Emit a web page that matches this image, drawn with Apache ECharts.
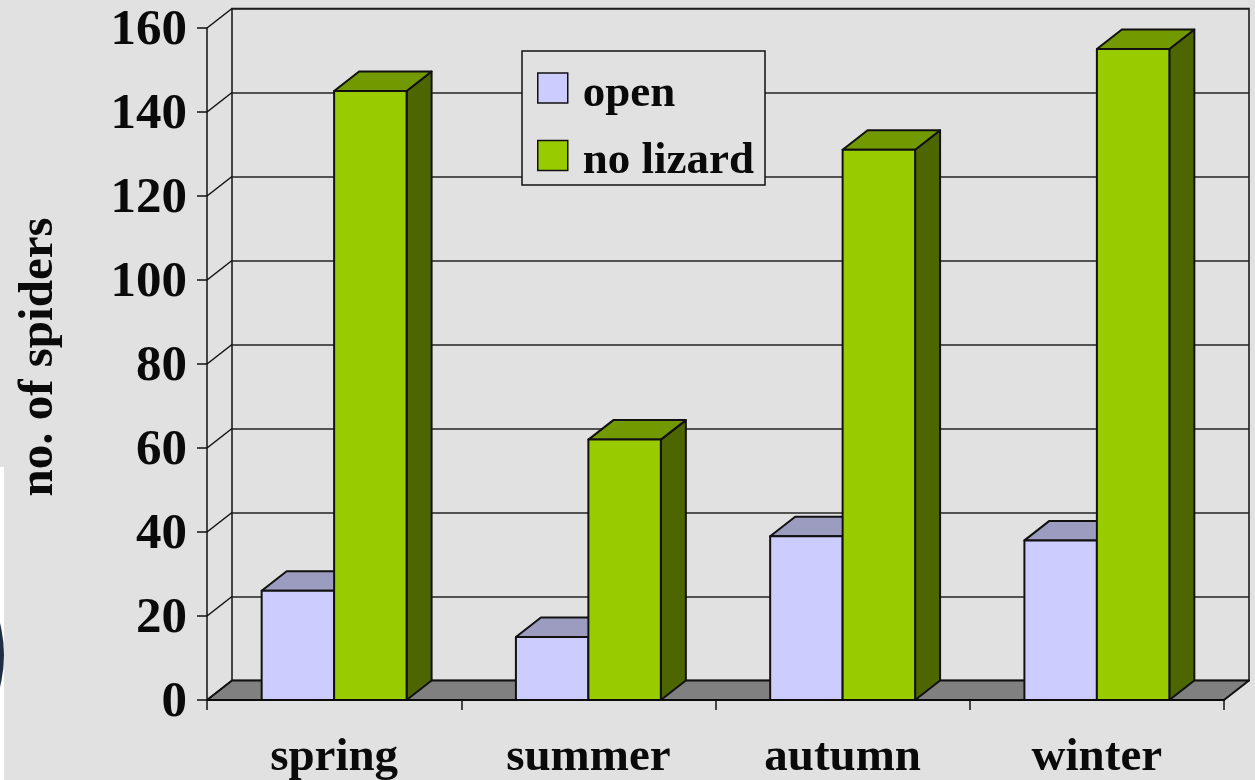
<!DOCTYPE html>
<html><head><meta charset="utf-8">
<style>html,body{margin:0;padding:0;background:#e1e1e1}#c{width:1255px;height:780px}</style>
<script src="https://cdn.jsdelivr.net/npm/echarts@6/dist/echarts.min.js"></script>
</head><body><div id="c"></div>
<script>
const categories = ['spring', 'summer', 'autumn', 'winter'];
const openValues = [26, 15, 39, 38];
const noLizardValues = [145, 62, 131, 155];
const axisTicks = [0, 20, 40, 60, 80, 100, 120, 140, 160];

const DX = 25, DY = -19.5, BAR_FRAC = 0.285;
const FONT = '"Liberation Serif", "Times New Roman", serif';
const edge = { stroke: '#111', lineWidth: 2, lineJoin: 'round' };

function poly(points, fill) {
  return { type: 'polygon', shape: { points }, style: Object.assign({ fill }, edge) };
}
function barRenderer(side, colors) {
  return function (params, api) {
    const base = api.coord([api.value(0), 0]);
    const top = api.coord([api.value(0), api.value(1)]);
    const w = api.size([1, 0])[0] * BAR_FRAC;
    const x0 = side < 0 ? base[0] - w : base[0];
    const x1 = x0 + w;
    return {
      type: 'group',
      children: [
        poly([[x1, base[1]], [x1 + DX, base[1] + DY], [x1 + DX, top[1] + DY], [x1, top[1]]], colors.side),
        poly([[x0, top[1]], [x0 + DX, top[1] + DY], [x1 + DX, top[1] + DY], [x1, top[1]]], colors.top),
        poly([[x0, base[1]], [x0, top[1]], [x1, top[1]], [x1, base[1]]], colors.front)
      ]
    };
  };
}
function floorRenderer(params, api) {
  const band = api.size([1, 0])[0];
  const p = api.coord([0, 0]);
  const l = p[0] - band / 2, r = l + band * categories.length, y = p[1];
  return poly([[l, y], [l + DX, y + DY], [r + DX, y + DY], [r, y]], '#808080');
}
function diagonalRenderer(params, api) {
  const band = api.size([1, 0])[0];
  const p = api.coord([0, api.value(1)]);
  const l = p[0] - band / 2;
  return { type: 'line', shape: { x1: l, y1: p[1], x2: l + DX, y2: p[1] + DY },
           style: { stroke: '#111', lineWidth: 1.5 } };
}

const chart = echarts.init(document.getElementById('c'), null, { renderer: 'canvas' });
chart.setOption({
  animation: false,
  backgroundColor: '#e1e1e1',
  textStyle: { fontFamily: FONT },
  grid: [
    { left: 207, top: 28, width: 1017, height: 672, containLabel: false, outerBoundsMode: 'none' },
    { left: 232, top: 8.5, width: 1017, height: 672, show: true, borderColor: '#111', borderWidth: 1.5, backgroundColor: 'transparent', outerBoundsMode: 'none' }
  ],
  legend: {
    data: [{ name: 'open', icon: 'rect' }, { name: 'no lizard', icon: 'rect' }],
    orient: 'vertical', left: 522, top: 51,
    padding: [20.5, 11, 1, 15], itemWidth: 30, itemHeight: 30, itemGap: 22.5,
    backgroundColor: '#e1e1e1', borderColor: '#111', borderWidth: 1.5,
    selectedMode: false, z: 6,
    formatter: name => '{t|' + name + '}',
    textStyle: { rich: { t: { fontFamily: FONT, fontWeight: 'bold', fontSize: 45, color: '#0a0a0a', padding: [12, 0, 0, 10] } } },
    itemStyle: { borderColor: '#111', borderWidth: 1.5 }
  },
  xAxis: [
    { type: 'category', gridIndex: 0, data: categories, z: 5,
      axisLine: { lineStyle: { color: '#0a0a0a', width: 2 } },
      axisTick: { show: true, length: 10, alignWithLabel: false, lineStyle: { color: '#111', width: 1.5 } },
      axisLabel: { fontFamily: FONT, fontWeight: 'bold', fontSize: 47, color: '#0a0a0a', margin: 34 } },
    { type: 'category', gridIndex: 1, data: categories, show: false }
  ],
  yAxis: [
    { type: 'value', gridIndex: 0, min: 0, max: 160, interval: 20, z: 5,
      name: 'no. of spiders', nameLocation: 'middle', nameRotate: 90, nameGap: 143, nameMoveOverlap: false,
      nameTextStyle: { fontFamily: FONT, fontWeight: 'bold', fontSize: 49, color: '#0a0a0a', padding: [0, 0, 0, 14] },
      axisLine: { show: true, lineStyle: { color: '#111', width: 1.5 } },
      axisTick: { show: true, length: 10, lineStyle: { color: '#111', width: 1.5 } },
      splitLine: { show: false },
      axisLabel: { margin: 20, formatter: '{t|{value}}',
        rich: { t: { fontFamily: FONT, fontWeight: 'bold', fontSize: 51, color: '#0a0a0a', padding: [6, 0, 0, 0] } } } },
    { type: 'value', gridIndex: 1, min: 0, max: 160, interval: 20,
      axisLine: { show: false }, axisTick: { show: false }, axisLabel: { show: false },
      splitLine: { show: true, lineStyle: { color: '#222', width: 1.5 } } }
  ],
  series: [
    { type: 'custom', name: 'floor', z: 1, silent: true, xAxisIndex: 0, yAxisIndex: 0,
      data: [[0, 0]], renderItem: floorRenderer, encode: { x: 0, y: 1 } },
    { type: 'custom', name: 'diagonals', z: 1, silent: true, xAxisIndex: 0, yAxisIndex: 0,
      data: axisTicks.map(v => [0, v]), renderItem: diagonalRenderer, encode: { x: 0, y: 1 } },
    { type: 'custom', name: 'open', z: 2, silent: true, xAxisIndex: 0, yAxisIndex: 0,
      itemStyle: { color: '#ccccff' },
      data: openValues.map((v, i) => [i, v]), encode: { x: 0, y: 1 },
      renderItem: barRenderer(-1, { front: '#ccccff', top: '#9c9cc0', side: '#666699' }) },
    { type: 'custom', name: 'no lizard', z: 3, silent: true, xAxisIndex: 0, yAxisIndex: 0,
      itemStyle: { color: '#99cc00' },
      data: noLizardValues.map((v, i) => [i, v]), encode: { x: 0, y: 1 },
      renderItem: barRenderer(1, { front: '#99cc00', top: '#739900', side: '#4d6600' }) }
  ],
  graphic: [
    { type: 'rect', z: 10, shape: { x: 0, y: 467, width: 4, height: 313 }, style: { fill: '#ffffff' } },
    { type: 'circle', z: 11, shape: { cx: -126, cy: 655, r: 130 }, style: { fill: '#1f2d45' } }
  ]
});
</script></body></html>
